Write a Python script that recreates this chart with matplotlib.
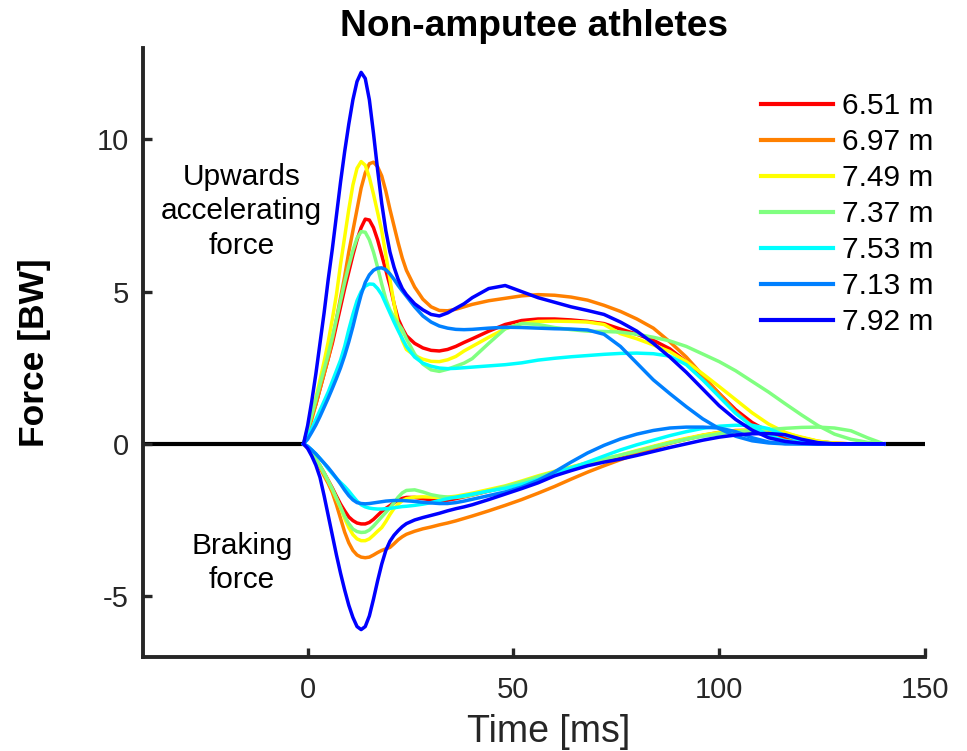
import numpy as np
import matplotlib
matplotlib.use("Agg")
import matplotlib.pyplot as plt

plt.rcParams['font.family'] = ['Liberation Sans', 'DejaVu Sans']
plt.rcParams['axes.unicode_minus'] = False

# ---------------- data ----------------
time_ms = [-1, 0, 1, 2, 3, 4, 5, 6, 7, 8, 9, 10, 11, 12, 13, 14, 15, 16, 17, 18, 19, 20,
           21, 22, 23, 24, 26, 28, 30, 32, 34, 36, 38, 40, 44, 48, 52, 56, 60, 64, 68, 72,
           76, 80, 84, 88, 92, 96, 100, 104, 108, 112, 116, 120, 124, 128, 132, 136, 140]

labels = ["6.51 m", "6.97 m", "7.49 m", "7.37 m", "7.53 m", "7.13 m", "7.92 m"]
colors = ["#FF0000", "#FF8000", "#FFFF00", "#80FF80", "#00FFFF", "#0080FF", "#0000FF"]

# vertical (upwards accelerating) force [BW]
up_651 = [0, 0.4, 0.9, 1.3, 1.8, 2.3, 2.8, 3.3, 3.9, 4.5, 5.1, 5.65, 6.2, 6.7, 7.1, 7.38, 7.35,
          7.1, 6.7, 6.2, 5.7, 5.2, 4.6, 4.1, 3.8, 3.55, 3.3, 3.15, 3.07, 3.05, 3.1, 3.2, 3.33,
          3.45, 3.7, 3.92, 4.05, 4.1, 4.1, 4.07, 4.02, 3.95, 3.77, 3.6, 3.4, 3.12, 2.7, 2.2,
          1.65, 1.12, 0.7, 0.4, 0.2, 0.1, 0.03, 0, 0, 0, 0]
up_697 = [0, 0.3, 0.8, 1.3, 1.8, 2.3, 2.8, 3.4, 4.1, 4.8, 5.5, 6.3, 7.0, 7.7, 8.4, 8.9, 9.2,
          9.25, 9.1, 8.8, 8.3, 7.7, 7.15, 6.6, 6.1, 5.7, 5.15, 4.75, 4.5, 4.38, 4.37, 4.42, 4.5,
          4.58, 4.7, 4.78, 4.86, 4.9, 4.88, 4.82, 4.72, 4.55, 4.35, 4.1, 3.8, 3.35, 2.85, 2.25,
          1.65, 1.05, 0.58, 0.28, 0.12, 0.04, 0, 0, 0, 0, 0]
up_749 = [0, 0.5, 1.0, 1.5, 2.1, 2.7, 3.35, 4.1, 4.9, 5.9, 6.8, 7.7, 8.5, 9.05, 9.27, 9.15, 8.75,
          8.2, 7.6, 7.0, 6.2, 5.4, 4.6, 3.9, 3.4, 3.1, 2.9, 2.78, 2.71, 2.7, 2.76, 2.87, 3.05,
          3.2, 3.5, 3.78, 3.95, 4.02, 4.03, 4.02, 4.0, 3.92, 3.62, 3.45, 3.25, 3.03, 2.7, 2.3,
          1.88, 1.45, 1.02, 0.65, 0.38, 0.2, 0.08, 0.02, 0, 0, 0]
up_737 = [0, 0.45, 0.95, 1.45, 1.95, 2.45, 2.95, 3.5, 4.1, 4.7, 5.3, 5.85, 6.35, 6.75, 6.97, 6.95,
          6.7, 6.3, 5.8, 5.25, 4.75, 4.4, 4.15, 3.95, 3.75, 3.45, 2.95, 2.62, 2.43, 2.38, 2.45,
          2.55, 2.65, 2.8, 3.3, 3.78, 3.95, 3.92, 3.82, 3.75, 3.7, 3.69, 3.67, 3.6, 3.5, 3.38,
          3.2, 2.95, 2.7, 2.4, 2.05, 1.7, 1.32, 0.95, 0.6, 0.32, 0.15, 0.05, 0]
up_753 = [0, 0.25, 0.5, 0.8, 1.1, 1.4, 1.7, 2.05, 2.4, 2.75, 3.2, 3.75, 4.25, 4.7, 5.0, 5.18,
          5.25, 5.24, 5.1, 4.9, 4.6, 4.3, 4.0, 3.72, 3.45, 3.2, 2.85, 2.65, 2.55, 2.49, 2.47,
          2.48, 2.5, 2.52, 2.56, 2.6, 2.66, 2.75, 2.81, 2.86, 2.9, 2.94, 2.97, 2.98, 2.96, 2.88,
          2.6, 2.1, 1.55, 1.0, 0.58, 0.28, 0.1, 0.03, 0, 0, 0, 0, 0]
up_713 = [0, 0.15, 0.38, 0.62, 0.9, 1.2, 1.5, 1.82, 2.15, 2.5, 2.9, 3.35, 3.85, 4.4, 4.9, 5.3,
          5.55, 5.7, 5.77, 5.78, 5.72, 5.58, 5.4, 5.2, 5.02, 4.85, 4.5, 4.2, 4.0, 3.87, 3.8,
          3.76, 3.75, 3.76, 3.8, 3.83, 3.82, 3.8, 3.78, 3.77, 3.74, 3.6, 3.2, 2.65, 2.1, 1.65,
          1.22, 0.82, 0.5, 0.25, 0.1, 0.03, 0, 0, 0, 0, 0, 0, 0]
up_792 = [0, 0.6, 1.4, 2.3, 3.3, 4.3, 5.4, 6.4, 7.5, 8.6, 9.6, 10.5, 11.3, 11.9, 12.2, 12.0,
          11.3, 10.2, 9.0, 7.9, 7.0, 6.3, 5.8, 5.4, 5.1, 4.9, 4.6, 4.4, 4.25, 4.2, 4.3, 4.45,
          4.6, 4.8, 5.1, 5.2, 5.0, 4.8, 4.65, 4.5, 4.38, 4.25, 4.0, 3.7, 3.3, 2.85, 2.35, 1.8,
          1.25, 0.8, 0.45, 0.2, 0.08, 0.02, 0, 0, 0, 0, 0]

# horizontal (braking) force [BW]
br_651 = [0, -0.12, -0.3, -0.5, -0.72, -0.95, -1.2, -1.45, -1.72, -1.98, -2.2, -2.4, -2.52,
          -2.6, -2.63, -2.63, -2.58, -2.48, -2.35, -2.22, -2.12, -2.03, -1.93, -1.85, -1.79,
          -1.76, -1.76, -1.8, -1.84, -1.86, -1.85, -1.8, -1.74, -1.68, -1.55, -1.42, -1.27,
          -1.1, -0.94, -0.8, -0.66, -0.53, -0.4, -0.25, -0.1, 0.04, 0.16, 0.27, 0.35, 0.41,
          0.43, 0.4, 0.32, 0.2, 0.08, 0.02, 0, 0, 0]
br_697 = [0, -0.12, -0.3, -0.52, -0.78, -1.05, -1.3, -1.6, -2.0, -2.45, -2.9, -3.25, -3.5,
          -3.65, -3.72, -3.74, -3.72, -3.65, -3.57, -3.5, -3.45, -3.4, -3.28, -3.15, -3.05,
          -2.97, -2.87, -2.79, -2.73, -2.66, -2.6, -2.53, -2.45, -2.37, -2.2, -2.02, -1.83,
          -1.62, -1.4, -1.16, -0.93, -0.72, -0.52, -0.33, -0.15, 0.02, 0.15, 0.28, 0.38, 0.44,
          0.45, 0.42, 0.33, 0.18, 0.06, 0, 0, 0, 0]
br_749 = [0, -0.12, -0.3, -0.5, -0.72, -0.97, -1.22, -1.5, -1.8, -2.1, -2.45, -2.75, -2.98,
          -3.12, -3.18, -3.18, -3.12, -3.0, -2.87, -2.75, -2.55, -2.32, -2.12, -1.98, -1.87,
          -1.8, -1.75, -1.74, -1.75, -1.76, -1.75, -1.72, -1.67, -1.62, -1.5, -1.38, -1.22,
          -1.05, -0.9, -0.76, -0.62, -0.5, -0.37, -0.22, -0.08, 0.06, 0.18, 0.29, 0.37, 0.42,
          0.44, 0.42, 0.35, 0.22, 0.09, 0.02, 0, 0, 0]
br_737 = [0, -0.12, -0.3, -0.5, -0.72, -0.96, -1.22, -1.48, -1.78, -2.08, -2.38, -2.62, -2.8,
          -2.88, -2.91, -2.9, -2.83, -2.7, -2.55, -2.4, -2.25, -2.1, -1.93, -1.75, -1.61,
          -1.53, -1.51, -1.58, -1.67, -1.72, -1.75, -1.76, -1.73, -1.68, -1.54, -1.4, -1.25,
          -1.08, -0.92, -0.77, -0.63, -0.5, -0.37, -0.24, -0.1, 0.03, 0.15, 0.25, 0.33, 0.39,
          0.43, 0.47, 0.51, 0.54, 0.55, 0.52, 0.43, 0.2, 0]
br_753 = [0, -0.08, -0.2, -0.33, -0.48, -0.64, -0.82, -0.98, -1.13, -1.27, -1.4, -1.55, -1.72,
          -1.88, -2.0, -2.07, -2.11, -2.13, -2.14, -2.14, -2.13, -2.12, -2.1, -2.08, -2.06,
          -2.05, -2.02, -1.98, -1.93, -1.86, -1.8, -1.75, -1.7, -1.65, -1.55, -1.46, -1.33,
          -1.17, -0.95, -0.8, -0.6, -0.4, -0.2, -0.03, 0.12, 0.27, 0.4, 0.51, 0.58, 0.61,
          0.61, 0.5, 0.28, 0.1, 0.02, 0, 0, 0, 0]
br_713 = [0, -0.08, -0.2, -0.33, -0.48, -0.63, -0.78, -0.95, -1.13, -1.32, -1.52, -1.7, -1.84,
          -1.93, -1.96, -1.97, -1.96, -1.94, -1.92, -1.9, -1.88, -1.87, -1.86, -1.86, -1.86,
          -1.87, -1.89, -1.92, -1.94, -1.96, -1.96, -1.93, -1.88, -1.82, -1.7, -1.58, -1.42,
          -1.2, -0.92, -0.6, -0.3, -0.05, 0.16, 0.32, 0.44, 0.52, 0.55, 0.55, 0.52, 0.4, 0.2,
          0.06, 0.01, 0, 0, 0, 0, 0, 0]
br_792 = [0, -0.15, -0.4, -0.7, -1.1, -1.7, -2.35, -3.0, -3.65, -4.25, -4.8, -5.3, -5.7, -6.0,
          -6.1, -6.0, -5.65, -5.1, -4.5, -3.95, -3.5, -3.2, -3.0, -2.85, -2.72, -2.62, -2.5,
          -2.42, -2.35, -2.28, -2.2, -2.13, -2.07, -2.0, -1.83, -1.65, -1.47, -1.28, -1.05,
          -0.88, -0.72, -0.6, -0.5, -0.38, -0.25, -0.12, 0.0, 0.12, 0.22, 0.29, 0.33, 0.34,
          0.3, 0.15, 0.04, 0, 0, 0, 0]

upward = [up_651, up_697, up_749, up_737, up_753, up_713, up_792]
braking = [br_651, br_697, br_749, br_737, br_753, br_713, br_792]

# flat (no contact) segments before and after the stance
pre_t, pre_f = [-40, -1], [0, 0]
post_t, post_f = [140, 150], [0, 0]

x_ticks = [0, 50, 100, 150]
y_ticks = [-5, 0, 5, 10]

# ---------------- figure ----------------
fig = plt.figure(figsize=(9.67, 7.51), dpi=100)
ax = fig.add_axes([143/967, 94/751, 782/967, 609/751])

axcol = '#262626'
ax.plot(pre_t, pre_f, color='black', lw=3.0, solid_capstyle='butt', zorder=1)
ax.plot(post_t, post_f, color='black', lw=3.0, solid_capstyle='butt', zorder=1)

handles = []
for up, br, c, lab in zip(upward, braking, colors, labels):
    h, = ax.plot(time_ms, up, color=c, lw=2.5, label=lab, solid_joinstyle='round')
    ax.plot(time_ms, br, color=c, lw=2.5, solid_joinstyle='round')
    handles.append(h)

ax.set_xlim(-40, 150)
ax.set_ylim(-7, 13)
ax.set_xticks(x_ticks)
ax.set_yticks(y_ticks)

for s in ['top', 'right']:
    ax.spines[s].set_visible(False)
for s in ['left', 'bottom']:
    ax.spines[s].set_linewidth(2.8)
    ax.spines[s].set_color(axcol)

ax.tick_params(axis='both', direction='in', length=6.5, width=2.4, colors=axcol,
               labelsize=21)
ax.tick_params(axis='x', pad=14)
ax.tick_params(axis='y', pad=10)

ax.set_title("Non-amputee athletes", fontsize=26.7, fontweight='bold', pad=9)
ax.set_xlabel("Time [ms]", fontsize=27, color=axcol)
ax.set_ylabel("Force [BW]", fontsize=25.5, fontweight='bold', color='black')
ax.xaxis.set_label_coords(0.519, -0.093)
ax.yaxis.set_label_coords(-0.118, 0.5)

ax.text(-16.0, 7.64, "Upwards\naccelerating\nforce", fontsize=21.5, ha='center', va='center',
        linespacing=1.3)
ax.text(-16.0, -3.91, "Braking\nforce", fontsize=21.5, ha='center', va='center',
        linespacing=1.3)

leg = ax.legend(handles=handles, loc='upper right', bbox_to_anchor=(933/967, 1-92/751),
                bbox_transform=fig.transFigure, frameon=False, fontsize=21.5,
                handlelength=2.4, handletextpad=0.28, labelspacing=0.27,
                borderpad=0, borderaxespad=0)
for lh in leg.get_lines():
    lh.set_linewidth(3.0)

fig.savefig("out.png", dpi=100)
